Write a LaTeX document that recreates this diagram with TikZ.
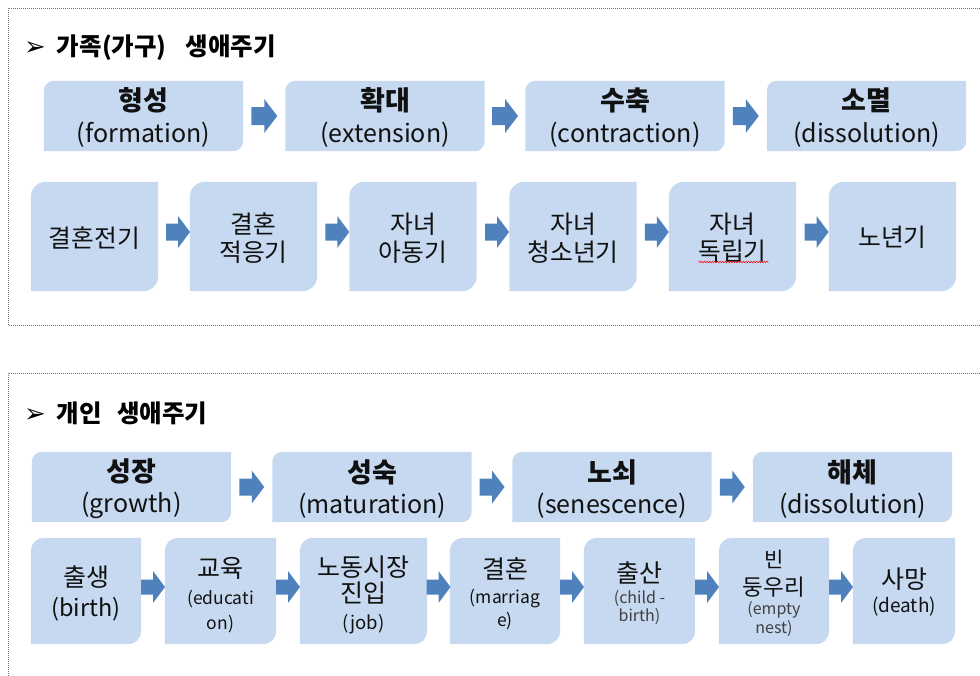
\documentclass[tikz,border=0pt]{standalone}
\usepackage{fontspec}
\setmainfont{Noto Sans CJK KR}
\newfontfamily\symfont{DejaVu Sans}
\usetikzlibrary{calc,decorations.pathmorphing}
\definecolor{boxfill}{HTML}{C6D9F0}
\definecolor{arrowblue}{HTML}{4F81BD}
\definecolor{txtgray}{HTML}{404040}
\definecolor{txtblack}{HTML}{111111}
\pgfdeclarelayer{bg}
\pgfsetlayers{bg,main}
\newcommand\fs[1]{\fontsize{#1}{0}\selectfont}
\newcommand\tightlines{\lineskiplimit=-1000pt\relax\lineskip=0pt\relax}
% leaf shaped box behind a node: #1 node name, #2 corner radius
\newcommand\leafbox[2]{%
  \begin{pgfonlayer}{bg}
  \fill[boxfill] (#1.south west) -- ([yshift=-#2]#1.north west)
    .. controls ([yshift=-0.45*#2]#1.north west) and ([xshift=0.45*#2]#1.north west) .. ([xshift=#2]#1.north west)
    -- (#1.north east) -- ([yshift=#2]#1.south east)
    .. controls ([yshift=0.45*#2]#1.south east) and ([xshift=-0.45*#2]#1.south east) .. ([xshift=-#2]#1.south east)
    -- cycle;
  \end{pgfonlayer}}
% block arrow between two nodes: #1 from, #2 to, #3 dx, #4 dy, #5 half length, #6 head length, #7 shaft half width, #8 head half width
\newcommand\barrow[8]{%
  \coordinate (m) at ($(#1.east)!.5!(#2.west)+(#3,#4)$);
  \fill[arrowblue] ([shift={(-#5,-#7)}]m) -- ([shift={(#5-#6,-#7)}]m) -- ([shift={(#5-#6,-#8)}]m)
    -- ([shift={(#5,0)}]m) -- ([shift={(#5-#6,#8)}]m) -- ([shift={(#5-#6,#7)}]m) -- ([shift={(-#5,#7)}]m) -- cycle;}
\tikzset{
  border/.style={draw=black!55, line width=0.8pt, dash pattern=on 0.9pt off 1.1pt},
  heading/.style={anchor=west, inner sep=0pt, text=black},
  phasebox/.style={minimum width=199pt, minimum height=70pt, inner sep=0pt},
  stagebox/.style={minimum width=127pt, minimum height=109pt, inner sep=0pt},
  lifebox/.style={minimum height=106pt, inner sep=0pt},
  lbl/.style={align=center, inner sep=0pt, text=txtblack, font=\fs{25}\tightlines},
}
\begin{document}
\begin{tikzpicture}[x=1pt,y=-1pt]
\useasboundingbox (0,0) rectangle (980,675);
\clip (0,0) rectangle (980,675);
% panel borders
\draw[border] (990,8) -- (8,8) -- (8,325) -- (990,325);
\draw[border] (990,373) -- (8,373) -- (8,690);
% headings
\node[heading] (h1) at (24,47.5) {{\symfont\fs{26}➢}\hspace{11pt}{\bfseries\fs{24.5}가족(가구)}\hspace{19pt}{\bfseries\fs{24.5}생애주기}};
\node[heading] (h2) at (24,413.5) {{\symfont\fs{26}➢}\hspace{11pt}{\bfseries\fs{24.5}개인}\hspace{15pt}{\bfseries\fs{24.5}생애주기}};
% family: phases
\node[phasebox] (p1) at (143.5,116) {};
\node[phasebox] (p2) at (385,116) {};
\node[phasebox] (p3) at (625,116) {};
\node[phasebox] (p4) at (866.5,116) {};
\foreach \n in {p1,p2,p3,p4} {\leafbox{\n}{10pt}}
\node[lbl] (p1t) at ([yshift=-1.5pt]p1.center) {{\bfseries\fs{27}형성}\\[31.7pt]{\fs{25}(formation)}};
\node[lbl] (p2t) at ([yshift=-1.5pt]p2.center) {{\bfseries\fs{27}확대}\\[31.7pt]{\fs{25}(extension)}};
\node[lbl] (p3t) at ([yshift=-1.5pt]p3.center) {{\bfseries\fs{27}수축}\\[31.7pt]{\fs{25}(contraction)}};
\node[lbl] (p4t) at ([yshift=-1.5pt]p4.center) {{\bfseries\fs{27}소멸}\\[31.7pt]{\fs{25}(dissolution)}};
\barrow{p1}{p2}{0}{0}{13}{13}{9}{17}
\barrow{p2}{p3}{0}{0}{13}{13}{9}{17}
\barrow{p3}{p4}{0}{0}{13}{13}{9}{17}
% family: stages
\node[stagebox] (s1) at (94.5,236.5) {};
\node[stagebox] (s2) at (253.5,236.5) {};
\node[stagebox] (s3) at (413,236.5) {};
\node[stagebox] (s4) at (573,236.5) {};
\node[stagebox] (s5) at (732.5,236.5) {};
\node[stagebox] (s6) at (892.5,236.5) {};
\foreach \n in {s1,s2,s3,s4,s5,s6} {\leafbox{\n}{15pt}}
\node[lbl] (s1t) at ([yshift=-2pt]s1.center) {\fs{24.8}결혼전기};
\node[lbl] (s2t) at ([yshift=-1.5pt]s2.center) {{\fs{24.8}결혼}\\[27.5pt]{\fs{24.8}적응기}};
\node[lbl] (s3t) at ([yshift=-1.5pt]s3.center) {{\fs{24.8}자녀}\\[27.5pt]{\fs{24.8}아동기}};
\node[lbl] (s4t) at ([yshift=-1.5pt]s4.center) {{\fs{24.8}자녀}\\[27.5pt]{\fs{24.8}청소년기}};
\node[lbl] (s5t) at ([yshift=-1.5pt]s5.center) {{\fs{24.8}자녀}\\[27.5pt]{\fs{24.8}독립기}};
\node[lbl] (s6t) at ([yshift=-1pt]s6.center) {\fs{24.8}노년기};
\barrow{s1}{s2}{4}{-4.5}{12}{12}{8.5}{16}
\barrow{s2}{s3}{4}{-4.5}{12}{12}{8.5}{16}
\barrow{s3}{s4}{4}{-4.5}{12}{12}{8.5}{16}
\barrow{s4}{s5}{4}{-4.5}{12}{12}{8.5}{16}
\barrow{s5}{s6}{4}{-4.5}{12}{12}{8.5}{16}
\draw[red, line width=0.5pt, decorate, decoration={snake, amplitude=0.8pt, segment length=2.6pt}]
  ([shift={(-34,25.5)}]s5.center) -- ([shift={(36,25.5)}]s5.center);
% individual: phases
\node[phasebox] (q1) at (131.5,487) {};
\node[phasebox] (q2) at (372,487) {};
\node[phasebox] (q3) at (612,487) {};
\node[phasebox] (q4) at (852.5,487) {};
\foreach \n in {q1,q2,q3,q4} {\leafbox{\n}{10pt}}
\node[lbl] (q1t) at ([yshift=-2pt]q1.center) {{\bfseries\fs{27}성장}\\[31pt]{\fs{25}(growth)}};
\node[lbl] (q2t) at ([yshift=-2pt]q2.center) {{\bfseries\fs{27}성숙}\\[31pt]{\fs{25}(maturation)}};
\node[lbl] (q3t) at ([yshift=-2pt]q3.center) {{\bfseries\fs{27}노쇠}\\[31pt]{\fs{25}(senescence)}};
\node[lbl] (q4t) at ([yshift=-2pt]q4.center) {{\bfseries\fs{27}해체}\\[31pt]{\fs{25}(dissolution)}};
\barrow{q1}{q2}{0}{0}{12.5}{12.5}{8.5}{16.5}
\barrow{q2}{q3}{0}{0}{12.5}{12.5}{8.5}{16.5}
\barrow{q3}{q4}{0}{0}{12.5}{12.5}{8.5}{16.5}
% individual: events
\node[lifebox, minimum width=110pt] (t1) at (86,591) {};
\node[lifebox, minimum width=111pt] (t2) at (220.5,591) {};
\node[lifebox, minimum width=127pt] (t3) at (363.5,591) {};
\node[lifebox, minimum width=110pt] (t4) at (505,591) {};
\node[lifebox, minimum width=111pt] (t5) at (639.5,591) {};
\node[lifebox, minimum width=110pt] (t6) at (774,591) {};
\node[lifebox, minimum width=102pt] (t7) at (904,591) {};
\foreach \n in {t1,t2,t3,t4,t5,t6,t7} {\leafbox{\n}{13pt}}
\node[lbl] (t1t) at ([yshift=-2.5pt]t1.center) {{\fs{25}출생}\\[30.5pt]{\fs{23.5}(birth)}};
\node[lbl] (t2t) at ([yshift=-4pt]t2.center) {{\fs{25}교육}\\[26.7pt]{\fs{17.5}(educati}\\[25pt]{\fs{17.5}on)}};
\node[lbl] (t3t) at ([yshift=-4pt]t3.center) {{\fs{25}노동시장}\\[26pt]{\fs{25}진입}\\[26.9pt]{\fs{18.5}(job)}};
\node[lbl] (t4t) at ([yshift=-3pt]t4.center) {{\fs{25}결혼}\\[24.7pt]{\fs{17.5}(marriag}\\[23pt]{\fs{17.5}e)}};
\node[lbl] (t5t) at ([yshift=-2.5pt]t5.center) {{\fs{25}출산}\\[20.8pt]{\fs{16}\color{txtgray}(child -}\\[18.5pt]{\fs{16}\color{txtgray}birth)}};
\node[lbl] (t6t) at ([yshift=-2.5pt]t6.center) {{\fs{21}빈}\\[27.6pt]{\fs{22.5}둥우리}\\[19.2pt]{\fs{16}\color{txtgray}(empty}\\[19pt]{\fs{16}\color{txtgray}nest)}};
\node[lbl] (t7t) at ([yshift=-1.5pt]t7.center) {{\fs{25}사망}\\[24pt]{\fs{19}(death)}};
\barrow{t1}{t2}{0}{-4}{12}{12}{7.5}{16}
\barrow{t2}{t3}{0}{-4}{12}{12}{7.5}{16}
\barrow{t3}{t4}{0}{-4}{12}{12}{7.5}{16}
\barrow{t4}{t5}{0}{-4}{12}{12}{7.5}{16}
\barrow{t5}{t6}{0}{-4}{12}{12}{7.5}{16}
\barrow{t6}{t7}{0}{-4}{12}{12}{7.5}{16}
\end{tikzpicture}
\end{document}
